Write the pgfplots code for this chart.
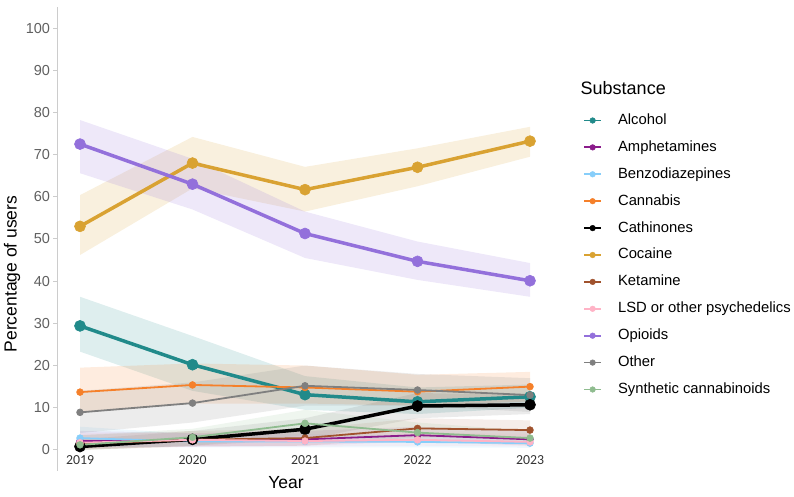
\documentclass[border=0pt]{standalone}
\usepackage{pgfplots}
\pgfplotsset{compat=1.18}
\usepackage{pgfplotstable}
\usepackage{fontspec}
\setmainfont{Liberation Sans}
\newfontfamily\carlito{Carlito}

\definecolor{cAlc}{HTML}{218A8A}
\definecolor{cAmp}{HTML}{8B1C8B}
\definecolor{cBen}{HTML}{87CEFA}
\definecolor{cCan}{HTML}{F5802A}
\definecolor{cCat}{HTML}{000000}
\definecolor{cCoc}{HTML}{D9A232}
\definecolor{cKet}{HTML}{A0522D}
\definecolor{cLsd}{HTML}{FFB3C6}
\definecolor{cOpi}{HTML}{9370DB}
\definecolor{cOth}{HTML}{7F7F7F}
\definecolor{cSyn}{HTML}{8FBC8F}
\definecolor{labgray}{HTML}{606060}
\definecolor{axgray}{HTML}{CCCCCC}

% x: 0=2019, 1=2020, 2=2021, 3=2022, 4=2023
\pgfplotstableread{
x alc amp ben can cat coc ket lsd opi oth syn
0 29.4 2.1 2.8 13.7 0.8 53.0 1.5 1.7 72.5 8.9 1.2
1 20.2 2.2 2.0 15.4 2.5 68.0 2.4 2.4 63.0 11.1 3.0
2 13.1 2.5 2.0 14.8 4.9 61.7 2.8 2.1 51.3 15.2 6.3
3 11.4 3.5 1.9 13.8 10.4 67.0 5.1 2.4 44.7 14.2 4.1
4 12.6 2.5 1.6 15.0 10.7 73.2 4.7 1.9 40.1 13.0 2.8
}\data

\newcommand{\thinline}[2]{%
  \addplot[color=#2, line width=1.8pt, mark=*, mark size=3.4pt, mark options={line width=0.6pt}, forget plot] table[x=x,y=#1]{\data};
}
\newcommand{\thickline}[2]{%
  \addplot[color=#2, line width=3.5pt, mark=*, mark size=5.5pt, mark options={line width=0.6pt}, forget plot] table[x=x,y=#1]{\data};
}
\newcommand{\legimg}[1]{\addlegendimage{color=#1, line width=1.8pt, mark=*, mark size=2.8pt, mark options={line width=0.5pt}}}

\begin{document}
\begin{tikzpicture}
\useasboundingbox (0,0) rectangle (794pt,497pt);
\begin{axis}[
  at={(57.5pt,26pt)}, anchor=south west,
  scale only axis, width=495pt, height=464pt,
  xmin=-0.2, xmax=4.2, ymin=-5, ymax=105,
  axis lines*=left,
  x axis line style={draw=none},
  y axis line style={draw=axgray, line width=1.3pt},
  xtick={0,1,2,3,4},
  xticklabels={2019,2020,2021,2022,2023},
  ytick={0,10,...,100},
  tick align=outside,
  major tick length=4pt,
  major x tick style={draw=none},
  major y tick style={draw=axgray, line width=1pt},
  /pgf/number format/assume math mode=true,
  yticklabel style={font=\fontsize{14.5}{16}\selectfont, text=labgray},
  xticklabel style={font=\carlito\fontsize{13.8}{15}\selectfont, text=black!80, anchor=north, inner sep=0pt, yshift=20pt},
  xlabel={Year},
  xlabel style={at={(axis description cs:0.4616,0)}, anchor=center, yshift=-12pt, font=\fontsize{17.5}{20}\selectfont},
  ylabel={Percentage of users},
  ylabel style={at={(axis description cs:-0.0919,0.4246)}, anchor=center, font=\fontsize{17.5}{20}\selectfont},
  legend cell align=left,
  legend style={at={(rel axis cs:1.0616,0.7709)}, anchor=north west, draw=none, fill=none, inner sep=0pt,
    font=\fontsize{14.8}{16}\selectfont, row sep=12.9pt,
    nodes={inner sep=0pt, text height=11pt, text depth=3pt},
    /tikz/every odd column/.append style={column sep=16pt}},
  clip=false,
]
% confidence bands: upper bounds 2019..2023, then lower bounds 2023..2019
\addplot[fill=cAlc, fill opacity=0.15, draw=none, forget plot] coordinates {(0,36.3)(1,27.0)(2,17.5)(3,14.8)(4,15.5)(4,10.0)(3,8.5)(2,9.5)(1,14.0)(0,23.3)} -- cycle;
\addplot[fill=cAmp, fill opacity=0.10, draw=none, forget plot] coordinates {(0,4.5)(1,4.0)(2,4.5)(3,5.5)(4,4.5)(4,1.0)(3,2.0)(2,1.0)(1,0.8)(0,0.5)} -- cycle;
\addplot[fill=cBen, fill opacity=0.14, draw=none, forget plot] coordinates {(0,5.5)(1,3.8)(2,3.8)(3,3.5)(4,3.2)(4,0.5)(3,0.6)(2,0.6)(1,0.6)(0,0.8)} -- cycle;
\addplot[fill=cCan, fill opacity=0.15, draw=none, forget plot] coordinates {(0,19.5)(1,20.5)(2,20.0)(3,17.8)(4,18.5)(4,11.5)(3,10.5)(2,11.0)(1,11.0)(0,9.0)} -- cycle;
\addplot[fill=cCat, fill opacity=0.08, draw=none, forget plot] coordinates {(0,2.5)(1,4.5)(2,7.5)(3,13.5)(4,13.0)(4,8.5)(3,7.5)(2,2.5)(1,1.0)(0,0.0)} -- cycle;
\addplot[fill=cCoc, fill opacity=0.16, draw=none, forget plot] coordinates {(0,60.4)(1,74.2)(2,67.1)(3,71.5)(4,76.6)(4,69.5)(3,62.5)(2,56.5)(1,62.0)(0,46.2)} -- cycle;
\addplot[fill=cKet, fill opacity=0.10, draw=none, forget plot] coordinates {(0,3.5)(1,4.5)(2,5.0)(3,7.5)(4,7.0)(4,3.0)(3,3.0)(2,1.0)(1,0.8)(0,0.0)} -- cycle;
\addplot[fill=cLsd, fill opacity=0.15, draw=none, forget plot] coordinates {(0,4.0)(1,4.0)(2,3.8)(3,4.2)(4,3.8)(4,0.8)(3,1.0)(2,0.8)(1,0.8)(0,0.2)} -- cycle;
\addplot[fill=cOpi, fill opacity=0.16, draw=none, forget plot] coordinates {(0,78.2)(1,69.0)(2,56.5)(3,49.4)(4,44.3)(4,36.3)(3,40.3)(2,45.5)(1,57.0)(0,65.6)} -- cycle;
\addplot[fill=cOth, fill opacity=0.15, draw=none, forget plot] coordinates {(0,14.0)(1,16.0)(2,20.0)(3,18.0)(4,17.0)(4,9.0)(3,10.5)(2,10.5)(1,6.5)(0,4.0)} -- cycle;
\addplot[fill=cSyn, fill opacity=0.14, draw=none, forget plot] coordinates {(0,3.5)(1,5.0)(2,9.5)(3,6.5)(4,4.5)(4,1.2)(3,2.0)(2,3.5)(1,1.0)(0,0.0)} -- cycle;
% lines
\thickline{alc}{cAlc}
\thinline{amp}{cAmp}
\thinline{ben}{cBen}
\thinline{can}{cCan}
\thickline{cat}{cCat}
\thickline{coc}{cCoc}
\thinline{ket}{cKet}
\thinline{lsd}{cLsd}
\thickline{opi}{cOpi}
\thinline{oth}{cOth}
\thinline{syn}{cSyn}
% legend
\legimg{cAlc}\addlegendentry{Alcohol}
\legimg{cAmp}\addlegendentry{Amphetamines}
\legimg{cBen}\addlegendentry{Benzodiazepines}
\legimg{cCan}\addlegendentry{Cannabis}
\legimg{cCat}\addlegendentry{Cathinones}
\legimg{cCoc}\addlegendentry{Cocaine}
\legimg{cKet}\addlegendentry{Ketamine}
\legimg{cLsd}\addlegendentry{LSD or other psychedelics}
\legimg{cOpi}\addlegendentry{Opioids}
\legimg{cOth}\addlegendentry{Other}
\legimg{cSyn}\addlegendentry{Synthetic cannabinoids}
\end{axis}
\node[anchor=west, inner sep=0pt, font=\fontsize{18}{20}\selectfont] at (580.5pt,409pt) {Substance};
\end{tikzpicture}
\end{document}
